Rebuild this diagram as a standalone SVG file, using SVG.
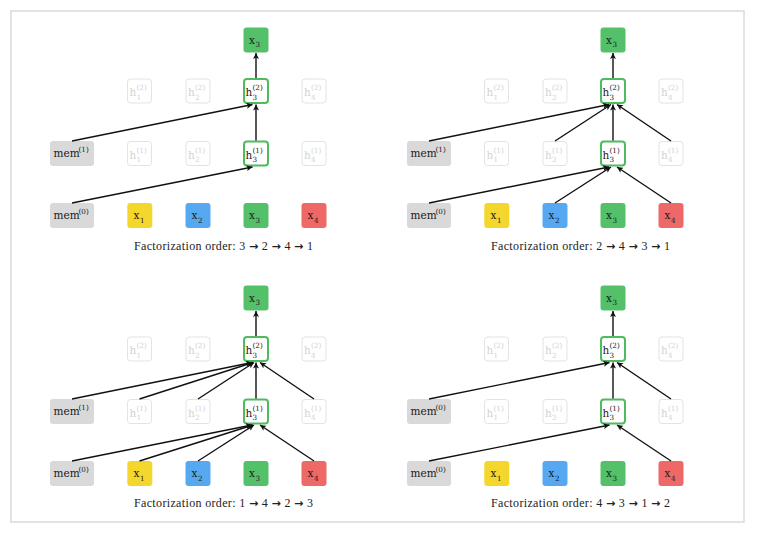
<svg xmlns="http://www.w3.org/2000/svg" width="758" height="534" viewBox="0 0 758 534">
<style>
.t{font-family:"DejaVu Serif",serif;font-size:10.5px;fill:#1a1a1a}
.s{font-family:"DejaVu Serif",serif;font-size:7.2px;fill:#1a1a1a}
.g{fill:#d2d2d2}
.ghost{fill:#fff;stroke:#e3e3e3;stroke-width:1}
.act{fill:#fff;stroke:#4fbb5f;stroke-width:2}
.mem{fill:#d9d9d9}
.c1{fill:#f5d62c}.c2{fill:#56a9f1}.c3{fill:#54c069}.c4{fill:#ef6868}
.cap{font-family:"Liberation Serif",serif;font-size:12px;fill:#222}
.ar{font-family:"DejaVu Sans",sans-serif;font-weight:bold;font-size:11px}
.ln{stroke:#111;stroke-width:1.4;fill:none;marker-end:url(#ah)}
</style>
<defs>
<marker id="ah" markerUnits="userSpaceOnUse" markerWidth="8" markerHeight="6" refX="6" refY="3" orient="auto">
<path d="M0,0 L6,3 L0,6 L1.4,3 z" fill="#111"/>
</marker>
</defs>
<rect x="11" y="11" width="733" height="511" fill="#fff" stroke="#dcdcdc" stroke-width="1.6"/>

<!-- Panel 1 -->
<g id="panel1">
<g id="p1-top"><rect class="c3" x="243.5" y="27.5" width="25" height="25" rx="3"/><text class="t" x="249" y="43.5">x</text><text class="s" x="255.5" y="47">3</text></g>
<g id="p1-h1-2"><rect class="ghost" x="127.5" y="79" width="24" height="24" rx="3"/><text class="t g" x="129.5" y="96">h</text><text class="s g" x="136.5" y="99.5">1</text><text class="s g" x="136.5" y="90">(2)</text></g>
<g id="p1-h2-2"><rect class="ghost" x="186" y="79" width="24" height="24" rx="3"/><text class="t g" x="188" y="96">h</text><text class="s g" x="195" y="99.5">2</text><text class="s g" x="195" y="90">(2)</text></g>
<g id="p1-h3-2"><rect class="act" x="244" y="79" width="24" height="24" rx="3"/><text class="t" x="245.5" y="96">h</text><text class="s" x="252.5" y="99.5">3</text><text class="s" x="252.5" y="90">(2)</text></g>
<g id="p1-h4-2"><rect class="ghost" x="302" y="79" width="24" height="24" rx="3"/><text class="t g" x="304" y="96">h</text><text class="s g" x="311" y="99.5">4</text><text class="s g" x="311" y="90">(2)</text></g>
<g id="p1-mem1"><rect class="mem" x="50" y="141" width="44" height="25" rx="3"/><text class="t" x="53.5" y="157">mem</text><text class="s" x="78.5" y="151.5">(1)</text></g>
<g id="p1-h1-1"><rect class="ghost" x="127.5" y="141.5" width="24" height="24" rx="3"/><text class="t g" x="129.5" y="158.5">h</text><text class="s g" x="136.5" y="162">1</text><text class="s g" x="136.5" y="152.5">(1)</text></g>
<g id="p1-h2-1"><rect class="ghost" x="186" y="141.5" width="24" height="24" rx="3"/><text class="t g" x="188" y="158.5">h</text><text class="s g" x="195" y="162">2</text><text class="s g" x="195" y="152.5">(1)</text></g>
<g id="p1-h3-1"><rect class="act" x="244" y="141.5" width="24" height="24" rx="3"/><text class="t" x="245.5" y="158.5">h</text><text class="s" x="252.5" y="162">3</text><text class="s" x="252.5" y="152.5">(1)</text></g>
<g id="p1-h4-1"><rect class="ghost" x="302" y="141.5" width="24" height="24" rx="3"/><text class="t g" x="304" y="158.5">h</text><text class="s g" x="311" y="162">4</text><text class="s g" x="311" y="152.5">(1)</text></g>
<g id="p1-mem0"><rect class="mem" x="50" y="203" width="44" height="25" rx="3"/><text class="t" x="53.5" y="219">mem</text><text class="s" x="78.5" y="213.5">(0)</text></g>
<g id="p1-x1"><rect class="c1" x="127.3" y="203" width="25" height="25" rx="3"/><text class="t" x="133.5" y="219">x</text><text class="s" x="140" y="222.5">1</text></g>
<g id="p1-x2"><rect class="c2" x="185.5" y="203" width="25" height="25" rx="3"/><text class="t" x="191.5" y="219">x</text><text class="s" x="198" y="222.5">2</text></g>
<g id="p1-x3"><rect class="c3" x="243.5" y="203" width="25" height="25" rx="3"/><text class="t" x="249" y="219">x</text><text class="s" x="255.5" y="222.5">3</text></g>
<g id="p1-x4"><rect class="c4" x="301.5" y="203" width="25" height="25" rx="3"/><text class="t" x="307.5" y="219">x</text><text class="s" x="314" y="222.5">4</text></g>
<text id="p1-cap" class="cap" x="134" y="250" textLength="179" lengthAdjust="spacing">Factorization order: 3 <tspan class="ar">→</tspan> 2 <tspan class="ar">→</tspan> 4 <tspan class="ar">→</tspan> 1</text>
</g>

<!-- Panel 2 -->
<g id="panel2" transform="translate(357,0)">
<g id="p2-top"><rect class="c3" x="243.5" y="27.5" width="25" height="25" rx="3"/><text class="t" x="249" y="43.5">x</text><text class="s" x="255.5" y="47">3</text></g>
<g id="p2-h1-2"><rect class="ghost" x="127.5" y="79" width="24" height="24" rx="3"/><text class="t g" x="129.5" y="96">h</text><text class="s g" x="136.5" y="99.5">1</text><text class="s g" x="136.5" y="90">(2)</text></g>
<g id="p2-h2-2"><rect class="ghost" x="186" y="79" width="24" height="24" rx="3"/><text class="t g" x="188" y="96">h</text><text class="s g" x="195" y="99.5">2</text><text class="s g" x="195" y="90">(2)</text></g>
<g id="p2-h3-2"><rect class="act" x="244" y="79" width="24" height="24" rx="3"/><text class="t" x="245.5" y="96">h</text><text class="s" x="252.5" y="99.5">3</text><text class="s" x="252.5" y="90">(2)</text></g>
<g id="p2-h4-2"><rect class="ghost" x="302" y="79" width="24" height="24" rx="3"/><text class="t g" x="304" y="96">h</text><text class="s g" x="311" y="99.5">4</text><text class="s g" x="311" y="90">(2)</text></g>
<g id="p2-mem1"><rect class="mem" x="50" y="141" width="44" height="25" rx="3"/><text class="t" x="53.5" y="157">mem</text><text class="s" x="78.5" y="151.5">(1)</text></g>
<g id="p2-h1-1"><rect class="ghost" x="127.5" y="141.5" width="24" height="24" rx="3"/><text class="t g" x="129.5" y="158.5">h</text><text class="s g" x="136.5" y="162">1</text><text class="s g" x="136.5" y="152.5">(1)</text></g>
<g id="p2-h2-1"><rect class="ghost" x="186" y="141.5" width="24" height="24" rx="3"/><text class="t g" x="188" y="158.5">h</text><text class="s g" x="195" y="162">2</text><text class="s g" x="195" y="152.5">(1)</text></g>
<g id="p2-h3-1"><rect class="act" x="244" y="141.5" width="24" height="24" rx="3"/><text class="t" x="245.5" y="158.5">h</text><text class="s" x="252.5" y="162">3</text><text class="s" x="252.5" y="152.5">(1)</text></g>
<g id="p2-h4-1"><rect class="ghost" x="302" y="141.5" width="24" height="24" rx="3"/><text class="t g" x="304" y="158.5">h</text><text class="s g" x="311" y="162">4</text><text class="s g" x="311" y="152.5">(1)</text></g>
<g id="p2-mem0"><rect class="mem" x="50" y="203" width="44" height="25" rx="3"/><text class="t" x="53.5" y="219">mem</text><text class="s" x="78.5" y="213.5">(0)</text></g>
<g id="p2-x1"><rect class="c1" x="127.3" y="203" width="25" height="25" rx="3"/><text class="t" x="133.5" y="219">x</text><text class="s" x="140" y="222.5">1</text></g>
<g id="p2-x2"><rect class="c2" x="185.5" y="203" width="25" height="25" rx="3"/><text class="t" x="191.5" y="219">x</text><text class="s" x="198" y="222.5">2</text></g>
<g id="p2-x3"><rect class="c3" x="243.5" y="203" width="25" height="25" rx="3"/><text class="t" x="249" y="219">x</text><text class="s" x="255.5" y="222.5">3</text></g>
<g id="p2-x4"><rect class="c4" x="301.5" y="203" width="25" height="25" rx="3"/><text class="t" x="307.5" y="219">x</text><text class="s" x="314" y="222.5">4</text></g>
<text id="p2-cap" class="cap" x="134" y="250" textLength="179" lengthAdjust="spacing">Factorization order: 2 <tspan class="ar">→</tspan> 4 <tspan class="ar">→</tspan> 3 <tspan class="ar">→</tspan> 1</text>
</g>

<!-- Panel 3 -->
<g id="panel3" transform="translate(0,258)">
<g id="p3-top"><rect class="c3" x="243.5" y="27.5" width="25" height="25" rx="3"/><text class="t" x="249" y="43.5">x</text><text class="s" x="255.5" y="47">3</text></g>
<g id="p3-h1-2"><rect class="ghost" x="127.5" y="79" width="24" height="24" rx="3"/><text class="t g" x="129.5" y="96">h</text><text class="s g" x="136.5" y="99.5">1</text><text class="s g" x="136.5" y="90">(2)</text></g>
<g id="p3-h2-2"><rect class="ghost" x="186" y="79" width="24" height="24" rx="3"/><text class="t g" x="188" y="96">h</text><text class="s g" x="195" y="99.5">2</text><text class="s g" x="195" y="90">(2)</text></g>
<g id="p3-h3-2"><rect class="act" x="244" y="79" width="24" height="24" rx="3"/><text class="t" x="245.5" y="96">h</text><text class="s" x="252.5" y="99.5">3</text><text class="s" x="252.5" y="90">(2)</text></g>
<g id="p3-h4-2"><rect class="ghost" x="302" y="79" width="24" height="24" rx="3"/><text class="t g" x="304" y="96">h</text><text class="s g" x="311" y="99.5">4</text><text class="s g" x="311" y="90">(2)</text></g>
<g id="p3-mem1"><rect class="mem" x="50" y="141" width="44" height="25" rx="3"/><text class="t" x="53.5" y="157">mem</text><text class="s" x="78.5" y="151.5">(1)</text></g>
<g id="p3-h1-1"><rect class="ghost" x="127.5" y="141.5" width="24" height="24" rx="3"/><text class="t g" x="129.5" y="158.5">h</text><text class="s g" x="136.5" y="162">1</text><text class="s g" x="136.5" y="152.5">(1)</text></g>
<g id="p3-h2-1"><rect class="ghost" x="186" y="141.5" width="24" height="24" rx="3"/><text class="t g" x="188" y="158.5">h</text><text class="s g" x="195" y="162">2</text><text class="s g" x="195" y="152.5">(1)</text></g>
<g id="p3-h3-1"><rect class="act" x="244" y="141.5" width="24" height="24" rx="3"/><text class="t" x="245.5" y="158.5">h</text><text class="s" x="252.5" y="162">3</text><text class="s" x="252.5" y="152.5">(1)</text></g>
<g id="p3-h4-1"><rect class="ghost" x="302" y="141.5" width="24" height="24" rx="3"/><text class="t g" x="304" y="158.5">h</text><text class="s g" x="311" y="162">4</text><text class="s g" x="311" y="152.5">(1)</text></g>
<g id="p3-mem0"><rect class="mem" x="50" y="203" width="44" height="25" rx="3"/><text class="t" x="53.5" y="219">mem</text><text class="s" x="78.5" y="213.5">(0)</text></g>
<g id="p3-x1"><rect class="c1" x="127.3" y="203" width="25" height="25" rx="3"/><text class="t" x="133.5" y="219">x</text><text class="s" x="140" y="222.5">1</text></g>
<g id="p3-x2"><rect class="c2" x="185.5" y="203" width="25" height="25" rx="3"/><text class="t" x="191.5" y="219">x</text><text class="s" x="198" y="222.5">2</text></g>
<g id="p3-x3"><rect class="c3" x="243.5" y="203" width="25" height="25" rx="3"/><text class="t" x="249" y="219">x</text><text class="s" x="255.5" y="222.5">3</text></g>
<g id="p3-x4"><rect class="c4" x="301.5" y="203" width="25" height="25" rx="3"/><text class="t" x="307.5" y="219">x</text><text class="s" x="314" y="222.5">4</text></g>
<text id="p3-cap" class="cap" x="134" y="249" textLength="179" lengthAdjust="spacing">Factorization order: 1 <tspan class="ar">→</tspan> 4 <tspan class="ar">→</tspan> 2 <tspan class="ar">→</tspan> 3</text>
</g>

<!-- Panel 4 -->
<g id="panel4" transform="translate(357,258)">
<g id="p4-top"><rect class="c3" x="243.5" y="27.5" width="25" height="25" rx="3"/><text class="t" x="249" y="43.5">x</text><text class="s" x="255.5" y="47">3</text></g>
<g id="p4-h1-2"><rect class="ghost" x="127.5" y="79" width="24" height="24" rx="3"/><text class="t g" x="129.5" y="96">h</text><text class="s g" x="136.5" y="99.5">1</text><text class="s g" x="136.5" y="90">(2)</text></g>
<g id="p4-h2-2"><rect class="ghost" x="186" y="79" width="24" height="24" rx="3"/><text class="t g" x="188" y="96">h</text><text class="s g" x="195" y="99.5">2</text><text class="s g" x="195" y="90">(2)</text></g>
<g id="p4-h3-2"><rect class="act" x="244" y="79" width="24" height="24" rx="3"/><text class="t" x="245.5" y="96">h</text><text class="s" x="252.5" y="99.5">3</text><text class="s" x="252.5" y="90">(2)</text></g>
<g id="p4-h4-2"><rect class="ghost" x="302" y="79" width="24" height="24" rx="3"/><text class="t g" x="304" y="96">h</text><text class="s g" x="311" y="99.5">4</text><text class="s g" x="311" y="90">(2)</text></g>
<g id="p4-mem1"><rect class="mem" x="50" y="141" width="44" height="25" rx="3"/><text class="t" x="53.5" y="157">mem</text><text class="s" x="78.5" y="151.5">(0)</text></g>
<g id="p4-h1-1"><rect class="ghost" x="127.5" y="141.5" width="24" height="24" rx="3"/><text class="t g" x="129.5" y="158.5">h</text><text class="s g" x="136.5" y="162">1</text><text class="s g" x="136.5" y="152.5">(1)</text></g>
<g id="p4-h2-1"><rect class="ghost" x="186" y="141.5" width="24" height="24" rx="3"/><text class="t g" x="188" y="158.5">h</text><text class="s g" x="195" y="162">2</text><text class="s g" x="195" y="152.5">(1)</text></g>
<g id="p4-h3-1"><rect class="act" x="244" y="141.5" width="24" height="24" rx="3"/><text class="t" x="245.5" y="158.5">h</text><text class="s" x="252.5" y="162">3</text><text class="s" x="252.5" y="152.5">(1)</text></g>
<g id="p4-h4-1"><rect class="ghost" x="302" y="141.5" width="24" height="24" rx="3"/><text class="t g" x="304" y="158.5">h</text><text class="s g" x="311" y="162">4</text><text class="s g" x="311" y="152.5">(1)</text></g>
<g id="p4-mem0"><rect class="mem" x="50" y="203" width="44" height="25" rx="3"/><text class="t" x="53.5" y="219">mem</text><text class="s" x="78.5" y="213.5">(0)</text></g>
<g id="p4-x1"><rect class="c1" x="127.3" y="203" width="25" height="25" rx="3"/><text class="t" x="133.5" y="219">x</text><text class="s" x="140" y="222.5">1</text></g>
<g id="p4-x2"><rect class="c2" x="185.5" y="203" width="25" height="25" rx="3"/><text class="t" x="191.5" y="219">x</text><text class="s" x="198" y="222.5">2</text></g>
<g id="p4-x3"><rect class="c3" x="243.5" y="203" width="25" height="25" rx="3"/><text class="t" x="249" y="219">x</text><text class="s" x="255.5" y="222.5">3</text></g>
<g id="p4-x4"><rect class="c4" x="301.5" y="203" width="25" height="25" rx="3"/><text class="t" x="307.5" y="219">x</text><text class="s" x="314" y="222.5">4</text></g>
<text id="p4-cap" class="cap" x="134" y="249" textLength="179" lengthAdjust="spacing">Factorization order: 4 <tspan class="ar">→</tspan> 3 <tspan class="ar">→</tspan> 1 <tspan class="ar">→</tspan> 2</text>
</g>

<g id="connectors">
<g id="c1">
<line class="ln" x1="256" y1="78" x2="256" y2="53"/>
<line class="ln" x1="256" y1="140.5" x2="256" y2="104.5"/>
<line class="ln" x1="72" y1="141" x2="252.5" y2="104.5"/>
<line class="ln" x1="72" y1="203" x2="252.5" y2="167"/>
</g>
<g id="c2" transform="translate(357,0)">
<line class="ln" x1="256" y1="78" x2="256" y2="53"/>
<line class="ln" x1="256" y1="140.5" x2="256" y2="104.5"/>
<line class="ln" x1="72" y1="141" x2="252" y2="104.5"/>
<line class="ln" x1="198" y1="141" x2="254" y2="104.5"/>
<line class="ln" x1="314" y1="141" x2="260" y2="104.5"/>
<line class="ln" x1="72" y1="203" x2="252" y2="167"/>
<line class="ln" x1="198" y1="203" x2="254" y2="167"/>
<line class="ln" x1="314" y1="203" x2="260" y2="167"/>
</g>
<g id="c3" transform="translate(0,258)">
<line class="ln" x1="256" y1="78" x2="256" y2="53"/>
<line class="ln" x1="256" y1="140.5" x2="256" y2="104.5"/>
<line class="ln" x1="72" y1="141" x2="252" y2="104.5"/>
<line class="ln" x1="139.5" y1="141" x2="253" y2="104.5"/>
<line class="ln" x1="198" y1="141" x2="254" y2="104.5"/>
<line class="ln" x1="314" y1="141" x2="260" y2="104.5"/>
<line class="ln" x1="72" y1="203" x2="252" y2="167"/>
<line class="ln" x1="139.5" y1="203" x2="253" y2="167"/>
<line class="ln" x1="198" y1="203" x2="254" y2="167"/>
<line class="ln" x1="314" y1="203" x2="260" y2="167"/>
</g>
<g id="c4" transform="translate(357,258)">
<line class="ln" x1="256" y1="78" x2="256" y2="53"/>
<line class="ln" x1="256" y1="140.5" x2="256" y2="104.5"/>
<line class="ln" x1="72" y1="141" x2="252.5" y2="104.5"/>
<line class="ln" x1="314" y1="141" x2="260" y2="104.5"/>
<line class="ln" x1="72" y1="203" x2="252.5" y2="167"/>
<line class="ln" x1="314" y1="203" x2="260" y2="167"/>
</g>
</g>
</svg>
